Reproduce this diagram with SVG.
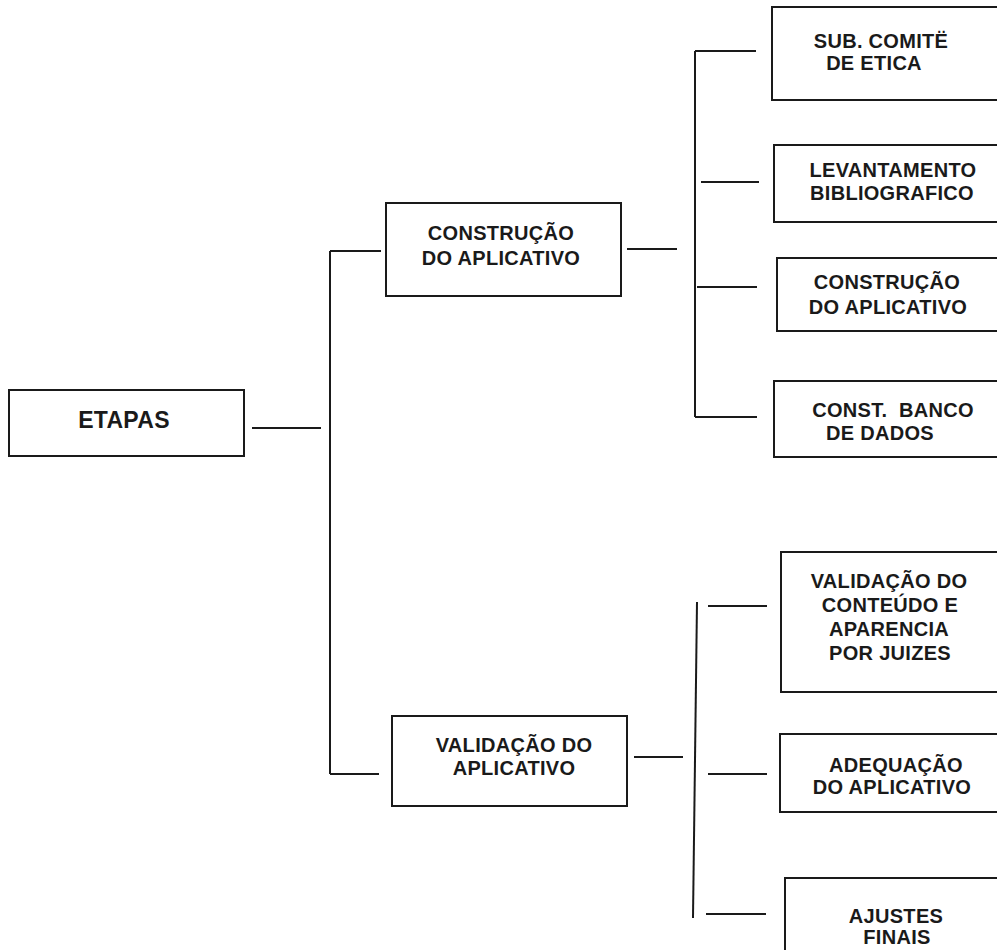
<svg xmlns="http://www.w3.org/2000/svg" width="997" height="950" viewBox="0 0 997 950">
<style>
.box{fill:#fff;stroke:#1a1a1a;stroke-width:2}
.ln{stroke:#1a1a1a;stroke-width:2;fill:none}
text{font-family:"Liberation Sans",Arial,sans-serif;font-weight:bold;font-size:20px;fill:#1a1a1a;text-anchor:middle;letter-spacing:0.3px}
</style>
<rect width="997" height="950" fill="#fff"/>
<g id="connectors">
<line class="ln" x1="252" y1="428" x2="321" y2="428"/>
<line class="ln" x1="330" y1="251" x2="330" y2="774"/>
<line class="ln" x1="330" y1="251" x2="381" y2="251"/>
<line class="ln" x1="330" y1="774" x2="379" y2="774"/>
<line class="ln" x1="627" y1="249" x2="677" y2="249"/>
<line class="ln" x1="695" y1="51" x2="695" y2="417"/>
<line class="ln" x1="695" y1="51" x2="756" y2="51"/>
<line class="ln" x1="701" y1="182" x2="759" y2="182"/>
<line class="ln" x1="697" y1="287" x2="757" y2="287"/>
<line class="ln" x1="695" y1="417" x2="757" y2="417"/>
<line class="ln" x1="634" y1="757" x2="683" y2="757"/>
<line class="ln" x1="697" y1="602" x2="693" y2="918"/>
<line class="ln" x1="708" y1="606" x2="767" y2="606"/>
<line class="ln" x1="708" y1="774" x2="767" y2="774"/>
<line class="ln" x1="706" y1="914" x2="766" y2="914"/>
</g>
<g id="etapas">
<rect class="box" x="9" y="390" width="235" height="66"/>
<text x="124" y="428" style="font-size:23px">ETAPAS</text>
</g>
<g id="construcao">
<rect class="box" x="386" y="203" width="235" height="93"/>
<text x="501" y="240">CONSTRUÇÃO</text>
<text x="501" y="265">DO APLICATIVO</text>
</g>
<g id="validacao">
<rect class="box" x="392" y="716" width="235" height="90"/>
<text x="514" y="752">VALIDAÇÃO DO</text>
<text x="514" y="775">APLICATIVO</text>
</g>
<g id="sub-comite">
<rect class="box" x="772" y="7" width="240" height="93"/>
<text x="881" y="48">SUB. COMITË</text>
<text x="874" y="70">DE ETICA</text>
</g>
<g id="levantamento">
<rect class="box" x="774" y="145" width="240" height="77"/>
<text x="893" y="177">LEVANTAMENTO</text>
<text x="892" y="200">BIBLIOGRAFICO</text>
</g>
<g id="construcao-app">
<rect class="box" x="777" y="258" width="240" height="73"/>
<text x="887" y="289">CONSTRUÇÃO</text>
<text x="888" y="314">DO APLICATIVO</text>
</g>
<g id="banco">
<rect class="box" x="774" y="381" width="240" height="76"/>
<text x="893" y="417" xml:space="preserve">CONST.  BANCO</text>
<text x="880" y="440">DE DADOS</text>
</g>
<g id="validacao-conteudo">
<rect class="box" x="781" y="552" width="240" height="140"/>
<text x="889" y="588">VALIDAÇÃO DO</text>
<text x="890" y="612">CONTEÚDO E</text>
<text x="889" y="636">APARENCIA</text>
<text x="890" y="660">POR JUIZES</text>
</g>
<g id="adequacao">
<rect class="box" x="780" y="734" width="240" height="78"/>
<text x="896" y="772">ADEQUAÇÃO</text>
<text x="892" y="794">DO APLICATIVO</text>
</g>
<g id="ajustes">
<rect class="box" x="785" y="878" width="240" height="90"/>
<text x="896" y="923">AJUSTES</text>
<text x="897" y="944">FINAIS</text>
</g>
</svg>
